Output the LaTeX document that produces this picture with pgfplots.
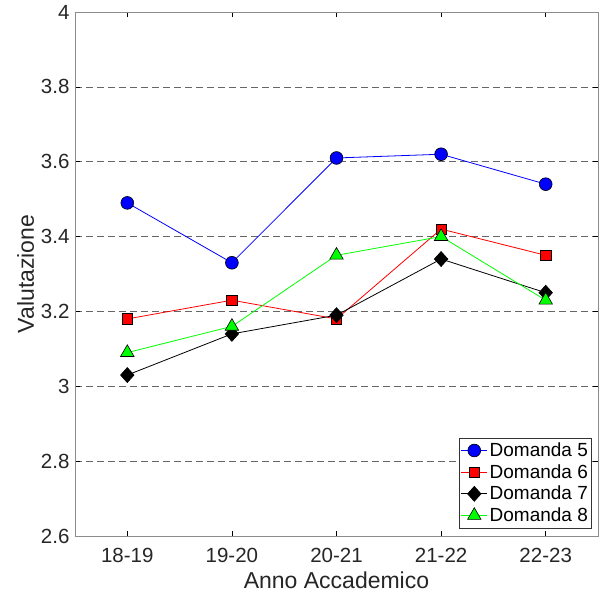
\documentclass[border=0pt]{standalone}
\usepackage{pgfplots}
\pgfplotsset{compat=1.18}
\usepackage{fontspec}
\setmainfont{Liberation Sans}
\begin{document}
\begin{tikzpicture}
\begin{axis}[
  at={(0,0)}, anchor=south west,
  scale only axis,
  width=523pt, height=524pt,
  xmin=0.5, xmax=5.5, ymin=2.6, ymax=4,
  xtick={1,2,3,4,5},
  xticklabels={18-19,19-20,20-21,21-22,22-23},
  ytick={2.6,2.8,3,3.2,3.4,3.6,3.8,4},
  yticklabels={2.6,2.8,3,3.2,3.4,3.6,3.8,4},
  tick align=inside,
  major tick length=5pt,
  tick style={black, line width=0.6pt},
  axis line style={black!45, line width=0.8pt},
  ymajorgrids,
  grid style={dashed, black!60, line width=0.7pt, dash pattern=on 7pt off 4pt},
  ticklabel style={font=\fontsize{20.5}{24}\selectfont, text=black!85},
  xticklabel style={anchor=base, yshift=-26pt},
  yticklabel style={xshift=-2pt},
  xlabel={Anno Accademico},
  ylabel={Valutazione},
  label style={font=\fontsize{23}{26}\selectfont, text=black!85},
  xlabel style={at={(axis description cs:0.5,0)}, anchor=base, yshift=-52pt},
  ylabel style={yshift=0pt},
  legend style={at={(0.988,0.015)}, anchor=south east, font=\fontsize{19}{23}\selectfont, draw=black!80, line width=0.6pt, row sep=0pt, inner sep=1.5pt, nodes={inner ysep=3.2pt}},
  legend cell align=left,
  legend image code/.code={\draw[#1] (0pt,0pt) -- (26pt,0pt); \draw[#1, mark repeat=1] plot coordinates {(13pt,0pt)};},
]
\addplot[blue, line width=0.8pt, mark=*, mark size=6.4pt, mark options={fill=blue, draw=black, line width=0.6pt}]
  coordinates {(1,3.49) (2,3.33) (3,3.61) (4,3.62) (5,3.54)};
\addlegendentry{Domanda 5}
\addplot[red, line width=0.8pt, mark=square*, mark size=5.2pt, mark options={fill=red, draw=black, line width=0.6pt}]
  coordinates {(1,3.18) (2,3.23) (3,3.18) (4,3.42) (5,3.35)};
\addlegendentry{Domanda 6}
\addplot[black, line width=0.8pt, mark=diamond*, mark size=7.5pt, mark options={fill=black, draw=black, line width=0.6pt, xscale=1.2}]
  coordinates {(1,3.03) (2,3.14) (3,3.19) (4,3.34) (5,3.25)};
\addlegendentry{Domanda 7}
\addplot[green, line width=0.8pt, mark=triangle*, mark size=7.8pt, mark options={fill=green, draw=black, line width=0.6pt}]
  coordinates {(1,3.09) (2,3.16) (3,3.35) (4,3.40) (5,3.23)};
\addlegendentry{Domanda 8}
\end{axis}
\pgfresetboundingbox
\path (-75pt,-61pt) rectangle (525pt,536pt);
\end{tikzpicture}
\end{document}
